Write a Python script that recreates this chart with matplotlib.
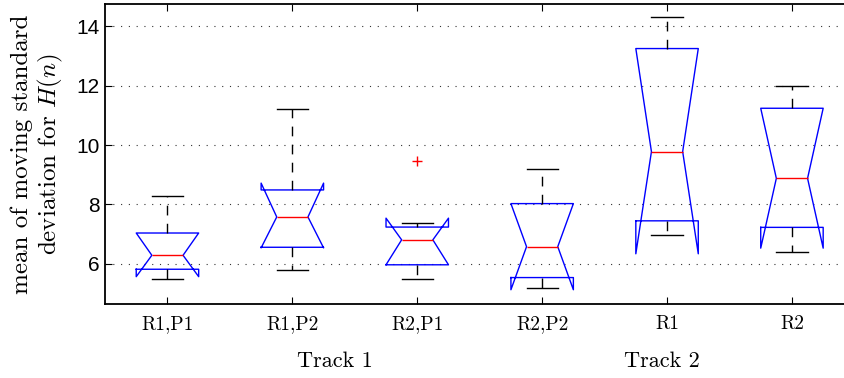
import matplotlib
matplotlib.use("Agg")
import matplotlib.pyplot as plt

# box statistics
labels = ["R1,P1", "R1,P2", "R2,P1", "R2,P2", "R1", "R2"]
whislo = [5.50, 5.80, 5.50, 5.18, 6.98, 6.39]
q1 = [5.82, 6.56, 5.97, 5.54, 7.45, 7.23]
med = [6.29, 7.58, 6.81, 6.58, 9.78, 8.88]
q3 = [7.04, 8.49, 7.24, 8.03, 13.25, 11.24]
whishi = [8.30, 11.20, 7.39, 9.18, 14.30, 11.98]
cilo = [5.57, 6.54, 5.97, 5.13, 6.34, 6.53]
cihi = [7.04, 8.72, 7.54, 8.03, 13.25, 11.24]
fliers = [[], [], [9.47], [], [], []]

groups = ["Track 1", "Track 2"]
group_pos = [2.34, 4.96]

plt.rcParams["mathtext.fontset"] = "cm"
plt.rcParams["axes.unicode_minus"] = False

stats = []
for i in range(len(labels)):
    stats.append({
        "label": labels[i], "whislo": whislo[i], "q1": q1[i], "med": med[i],
        "q3": q3[i], "whishi": whishi[i], "cilo": cilo[i], "cihi": cihi[i],
        "fliers": fliers[i],
    })

fig = plt.figure(figsize=(8.44, 3.78), dpi=100)
# right edge of the axes is cut off in the reference
ax = fig.add_axes([105 / 844, 74 / 378, 749.4 / 844, 300 / 378])

ax.bxp(stats, positions=range(1, 7), widths=0.5, shownotches=True,
       boxprops=dict(color="blue", linewidth=1),
       medianprops=dict(color="red", linewidth=1),
       whiskerprops=dict(color="black", linestyle=(0, (7, 6)), linewidth=1),
       capprops=dict(color="black", linewidth=1),
       flierprops=dict(marker="+", markeredgecolor="red", markersize=7,
                       linestyle="none"))

ax.set_xlim(0.5, 6.5)
ax.set_ylim(4.65, 14.75)
ax.set_yticks([6, 8, 10, 12, 14])
ax.yaxis.grid(True, linestyle=(0, (1, 6)), color="#333333", linewidth=0.8)
ax.set_axisbelow(True)

ax.tick_params(direction="in", length=5, top=True, right=False)
ax.set_xticks(range(1, 7))
ax.set_xticklabels(labels, family="cmr10", fontsize=14)
for t in ax.get_yticklabels():
    t.set_family("Liberation Sans")
    t.set_fontsize(15)
ax.tick_params(axis="x", pad=8)
ax.tick_params(axis="y", pad=4)

for s in ["top", "bottom", "left"]:
    ax.spines[s].set_linewidth(1.3)
ax.spines["right"].set_visible(False)

ax.set_ylabel("mean of moving standard\ndeviation for $H(n)$",
              family="cmr10", fontsize=18, linespacing=1.15, va="center")
ax.yaxis.set_label_coords(-0.090, 0.5)

for g, p in zip(groups, group_pos):
    ax.text(p, -0.19, g, transform=ax.get_xaxis_transform(),
            ha="center", va="center", family="cmr10", fontsize=16)

fig.savefig("out.png", dpi=100)
